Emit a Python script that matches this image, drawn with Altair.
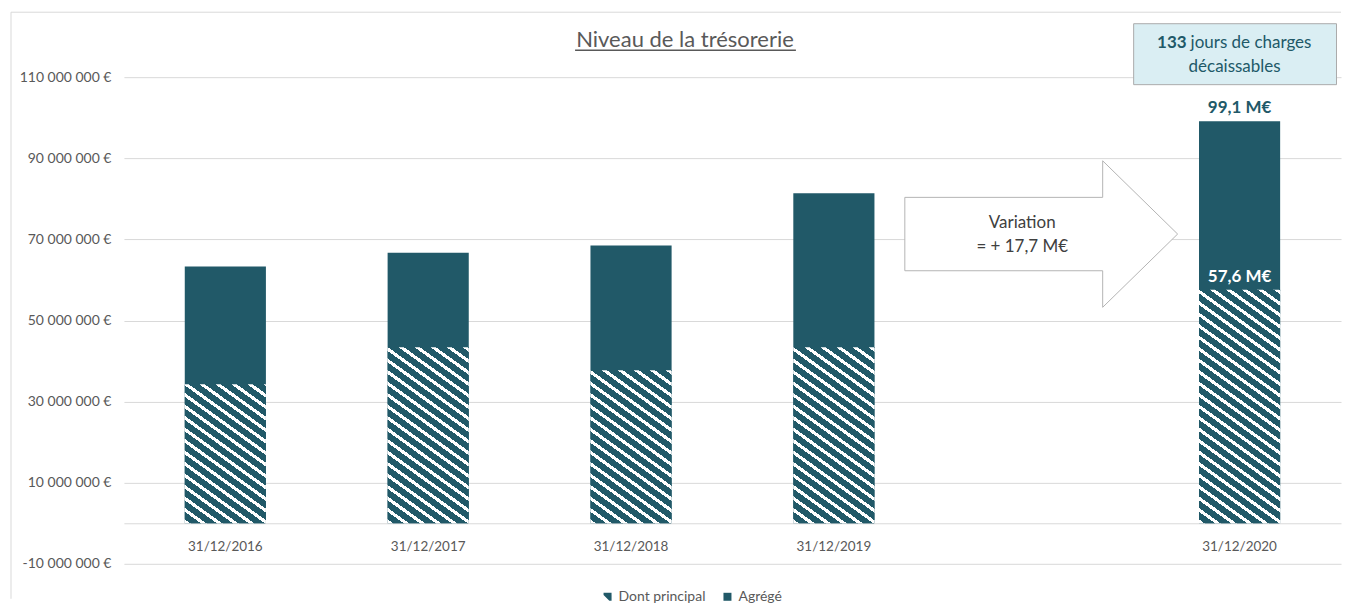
import altair as alt
import pandas as pd

# ---------------- data ----------------
categories = ["31/12/2016", "31/12/2017", "31/12/2018", "31/12/2019", "31/12/2020"]
axis_slots = ["31/12/2016", "31/12/2017", "31/12/2018", "31/12/2019", " ", "31/12/2020"]
agrege = [63.3e6, 66.7e6, 68.5e6, 81.4e6, 99.1e6]
principal = [34.3e6, 43.4e6, 37.7e6, 43.4e6, 57.6e6]
y_ticks = [-10e6, 10e6, 30e6, 50e6, 70e6, 90e6, 110e6]
series_names = ["Dont principal", "Agrégé"]
jours = 133

# ---------------- layout / style ----------------
PW, PH = 1218, 487
YMIN, YMAX = -10e6, 110e6
TEAL = "#215968"
GREY = "#595959"
GRID = "#D9D9D9"
FONT = "Lato"
P_INNER, P_OUTER = 0.6, 0.3


def fmt_m(v):
    return f"{v / 1e6:.1f}".replace(".", ",") + " M€"


step = PW / (len(axis_slots) - P_INNER + 2 * P_OUTER)
bar_w = step * (1 - P_INNER)


def hatch(h_px, w_px, px=16.0, py=11.5, white=0.34):
    a = w_px / px
    b = h_px / py
    n = a + b
    k = (a + b) / (a * a + b * b)
    stops = []
    i = 0
    while i < n:
        s = round(i / n, 5)
        ew = round(min((i + white) / n, 1.0), 5)
        e = round(min((i + 1) / n, 1.0), 5)
        stops += [
            {"offset": s, "color": "#FFFFFF"},
            {"offset": ew, "color": "#FFFFFF"},
            {"offset": ew, "color": TEAL},
            {"offset": e, "color": TEAL},
        ]
        i += 1
    return {"gradient": "linear", "x1": 0, "y1": 1,
            "x2": round(a * k, 5), "y2": round(1 - b * k, 5), "stops": stops}


bars = pd.DataFrame({"date": categories, "agrege": agrege, "principal": principal})
last = pd.DataFrame({
    "date": [categories[-1]],
    "agrege": [agrege[-1]],
    "principal": [principal[-1]],
    "lab_total": [fmt_m(agrege[-1])],
    "lab_princ": [fmt_m(principal[-1])],
})

x_enc = alt.X(
    "date:N",
    scale=alt.Scale(domain=axis_slots, paddingInner=P_INNER, paddingOuter=P_OUTER),
    axis=alt.Axis(
        title=None, labelAngle=0, ticks=False, grid=False, domain=True,
        domainColor=GRID, domainWidth=1, offset=-PH * (0 - YMIN) / (YMAX - YMIN),
        labelFont=FONT, labelFontSize=13.5, labelColor=GREY, labelPadding=16,
    ),
)
y_scale = alt.Scale(domain=[YMIN, YMAX], nice=False, zero=False)
y_axis = alt.Axis(
    title=None, values=y_ticks, ticks=False, domain=False, grid=True,
    gridColor=GRID, gridWidth=1, labelFont=FONT, labelFontSize=14,
    labelColor=GREY, labelPadding=13,
    labelExpr="replace(replace(format(datum.value, ','), /,/g, ' '), '\u2212', '-') + ' €'",
)

# hidden legend carrier (sits beneath the solid part of the last bar)
hatch_sym = "M-1,-1H1V1H0.45L-1,-0.45Z"
leg_df = pd.DataFrame({
    "series": series_names,
    "date": categories[-1],
    "v": (agrege[-1] + principal[-1]) / 2,
})
legend_layer = alt.Chart(leg_df).mark_point(filled=True, color=TEAL, opacity=1, size=30).encode(
    x=x_enc,
    y=alt.Y("v:Q", scale=y_scale, axis=y_axis),
    shape=alt.Shape(
        "series:N",
        scale=alt.Scale(domain=series_names, range=[hatch_sym, "square"]),
        legend=alt.Legend(
            title=None, orient="none", legendX=477, legendY=513, direction="horizontal",
            labelFont=FONT, labelFontSize=14, labelColor=GREY, symbolSize=64,
            symbolFillColor=TEAL, symbolStrokeWidth=0, labelOffset=4,
            columnPadding=14, padding=0,
        ),
    ),
)

total_layer = alt.Chart(bars).mark_bar(color=TEAL).encode(
    x=x_enc,
    y=alt.Y("agrege:Q", scale=y_scale, axis=y_axis),
    y2=alt.datum(0),
)

hatch_layers = []
for i, c in enumerate(categories):
    h_px = principal[i] / (YMAX - YMIN) * PH
    hatch_layers.append(
        alt.Chart(bars[bars["date"] == c]).mark_bar(fill=hatch(h_px, bar_w), strokeWidth=0).encode(
            x=x_enc,
            y=alt.Y("principal:Q", scale=y_scale, axis=y_axis),
            y2=alt.datum(0),
        )
    )

lab_total = alt.Chart(last).mark_text(
    font=FONT, fontSize=17, fontWeight="bold", color=TEAL, baseline="middle", dy=-13
).encode(x=x_enc, y=alt.Y("agrege:Q", scale=y_scale, axis=y_axis), text="lab_total:N")

lab_princ = alt.Chart(last).mark_text(
    font=FONT, fontSize=17, fontWeight="bold", color="#FFFFFF", baseline="middle", dy=-13
).encode(x=x_enc, y=alt.Y("principal:Q", scale=y_scale, axis=y_axis), text="lab_princ:N")

# annotations
one = pd.DataFrame({"k": [0]})
arrow_path = "M-1,-0.269L0.4505,-0.269L0.4505,-0.537L1,0L0.4505,0.537L0.4505,0.269L-1,0.269Z"
arrow = alt.Chart(one).mark_point(
    shape=arrow_path, size=273 * 273, filled=True, fill="#FFFFFF", stroke="#B4B4B4",
    strokeWidth=1, opacity=1,
).encode(x=alt.value(918), y=alt.value(157))

variation = agrege[-1] - agrege[-2]
var_lines = pd.DataFrame({
    "t": ["Variation", "= + " + fmt_m(variation)],
    "yy": [145.5, 169.5],
})
var_text = alt.Chart(var_lines).mark_text(
    font=FONT, fontSize=17, color="#404040", baseline="middle", align="center"
).encode(x=alt.value(899), y=alt.Y("yy:Q", scale=None), text="t:N")

box = alt.Chart(one).mark_rect(fill="#DAEEF3", stroke="#ABABAB", strokeWidth=1).encode(
    x=alt.value(1010.5), x2=alt.value(1213.5), y=alt.value(-53.5), y2=alt.value(7.5)
)
box_num = alt.Chart(pd.DataFrame({"t": [str(jours)]})).mark_text(
    font=FONT, fontSize=17, fontWeight="bold", color=TEAL, align="right", baseline="middle"
).encode(x=alt.value(1063.5), y=alt.value(-34.5), text="t:N")
box_txt1 = alt.Chart(pd.DataFrame({"t": ["jours de charges"]})).mark_text(
    font=FONT, fontSize=17, color=TEAL, align="left", baseline="middle"
).encode(x=alt.value(1067.5), y=alt.value(-34.5), text="t:N")
box_txt2 = alt.Chart(pd.DataFrame({"t": ["décaissables"]})).mark_text(
    font=FONT, fontSize=17, color=TEAL, align="center", baseline="middle"
).encode(x=alt.value(1111.5), y=alt.value(-10.5), text="t:N")

title_txt = alt.Chart(pd.DataFrame({"t": ["Niveau de la trésorerie"]})).mark_text(
    font=FONT, fontSize=22, color=GREY, align="center", baseline="middle"
).encode(x=alt.value(561.5), y=alt.value(-37), text="t:N")
title_ul = alt.Chart(one).mark_rule(color=GREY, strokeWidth=1.5).encode(
    x=alt.value(451.5), x2=alt.value(672.5), y=alt.value(-27)
)

border_top = alt.Chart(one).mark_rule(color=GRID, strokeWidth=1).encode(
    x=alt.value(-113), x2=alt.value(PW), y=alt.value(-65)
)
border_left = alt.Chart(one).mark_rule(color=GRID, strokeWidth=1).encode(
    x=alt.value(-113), y=alt.value(-65), y2=alt.value(522)
)

chart = alt.layer(
    legend_layer, total_layer, *hatch_layers, lab_total, lab_princ,
    arrow, var_text, box, box_num, box_txt1, box_txt2, title_txt, title_ul,
    border_top, border_left,
).resolve_scale(y="shared").properties(
    width=PW, height=PH,
    padding={"left": 2, "top": 3, "right": 0, "bottom": 0},
).configure_view(stroke=None)

chart.save("out.html", embed_options={"renderer": "svg", "actions": False})
